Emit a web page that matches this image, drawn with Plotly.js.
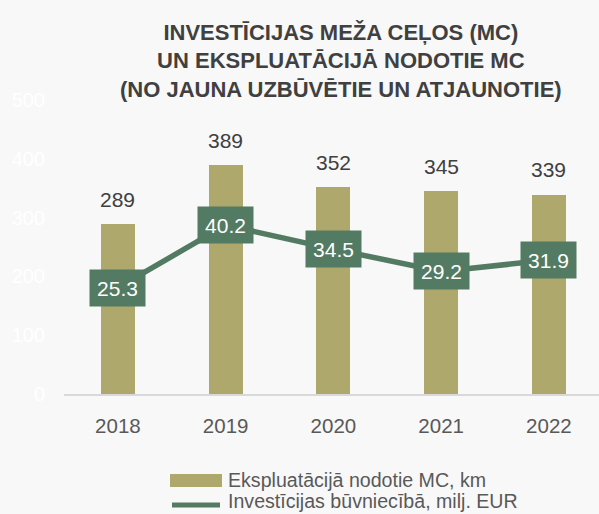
<!DOCTYPE html>
<html>
<head>
<meta charset="utf-8">
<script src="https://cdn.plot.ly/plotly-3.0.1.min.js"></script>
<style>html,body{margin:0;padding:0;background:#F8F8F8;}#chart{width:599px;height:514px;}</style>
</head>
<body>
<div id="chart"></div>
<script>
const years = ['2018', '2019', '2020', '2021', '2022'];
const roadsKm = [289, 389, 352, 345, 339];
const investMEur = [25.3, 40.2, 34.5, 29.2, 31.9];
const barName = 'Ekspluatācijā nodotie MC, km';
const lineName = 'Investīcijas būvniecībā, milj. EUR';
const yTicks = [0, 100, 200, 300, 400, 500];

const FONT = '"Liberation Sans", Arial, sans-serif';
const OLIVE = '#AEA86D';
const GREEN = '#537A62';

const traces = [
  {
    type: 'bar', x: years, y: roadsKm, name: barName,
    marker: {color: OLIVE}, width: 0.315, hoverinfo: 'none', showlegend: false
  },
  {
    type: 'scatter', mode: 'lines', x: years, y: investMEur, name: lineName,
    yaxis: 'y2', line: {color: GREEN, width: 5.5}, hoverinfo: 'none', showlegend: false
  }
];

const annotations = [];
years.forEach((yr, i) => {
  // category axis: annotation x uses the category's serial index
  annotations.push({
    x: i, y: roadsKm[i], xref: 'x', yref: 'y', text: String(roadsKm[i]),
    showarrow: false, yanchor: 'middle', yshift: 25,
    font: {family: FONT, size: 21, color: '#404040'}
  });
  annotations.push({
    x: i, y: investMEur[i], xref: 'x', yref: 'y2', text: investMEur[i].toFixed(1),
    showarrow: false, xanchor: 'center', yanchor: 'middle',
    bgcolor: GREEN, borderpad: 5, width: 45, height: 26,
    font: {family: FONT, size: 21, color: '#FFFFFF'}
  });
});

// manual legend (plot area: x 64..599 px, y 100..394 px)
const PX = px => (px - 64) / 535;
const PY = py => (394 - py) / 294;
const shapes = [
  {type: 'rect', xref: 'paper', yref: 'paper', x0: PX(170), x1: PX(222), y0: PY(474), y1: PY(487),
   fillcolor: OLIVE, line: {width: 0}},
  {type: 'line', xref: 'paper', yref: 'paper', x0: PX(172), x1: PX(220), y0: PY(505), y1: PY(505),
   line: {color: GREEN, width: 5}}
];
annotations.push({
  xref: 'paper', yref: 'paper', x: PX(226), y: PY(480), xanchor: 'left', yanchor: 'middle',
  text: barName, showarrow: false, font: {family: FONT, size: 19.6, color: '#595959'}
});
annotations.push({
  xref: 'paper', yref: 'paper', x: PX(226), y: PY(501), xanchor: 'left', yanchor: 'middle',
  text: lineName, showarrow: false, font: {family: FONT, size: 19.6, color: '#595959'}
});

const layout = {
  width: 599, height: 514,
  paper_bgcolor: '#F8F8F8', plot_bgcolor: '#F8F8F8',
  margin: {l: 64, r: 0, t: 100, b: 120, autoexpand: false},
  title: {
    text: 'INVESTĪCIJAS MEŽA CEĻOS (MC)<br>UN EKSPLUATĀCIJĀ NODOTIE MC<br>(NO JAUNA UZBŪVĒTIE UN ATJAUNOTIE)',
    font: {family: FONT, size: 22, color: '#404040', weight: 'bold'},
    xref: 'container', x: 0.569, xanchor: 'center',
    yref: 'container', y: 0.9225, yanchor: 'top'
  },
  xaxis: {
    type: 'category', range: [-0.5, 4.465], showgrid: false, zeroline: false,
    showline: true, linecolor: '#D9D9D9', linewidth: 2, ticks: '',
    ticklabelstandoff: 12, automargin: false,
    tickfont: {family: FONT, size: 20.5, color: '#595959'}
  },
  yaxis: {
    range: [0, 500], tickvals: yTicks, showgrid: false, zeroline: false, showline: false,
    ticks: '', ticklabelstandoff: 18, automargin: false,
    tickfont: {family: FONT, size: 20, color: '#FFFFFF'}
  },
  yaxis2: {range: [0, 70], overlaying: 'y', side: 'right', visible: false},
  showlegend: false,
  shapes: shapes,
  annotations: annotations,
  bargap: 0
};

Plotly.newPlot('chart', traces, layout, {displayModeBar: false, staticPlot: true});
</script>
</body>
</html>
